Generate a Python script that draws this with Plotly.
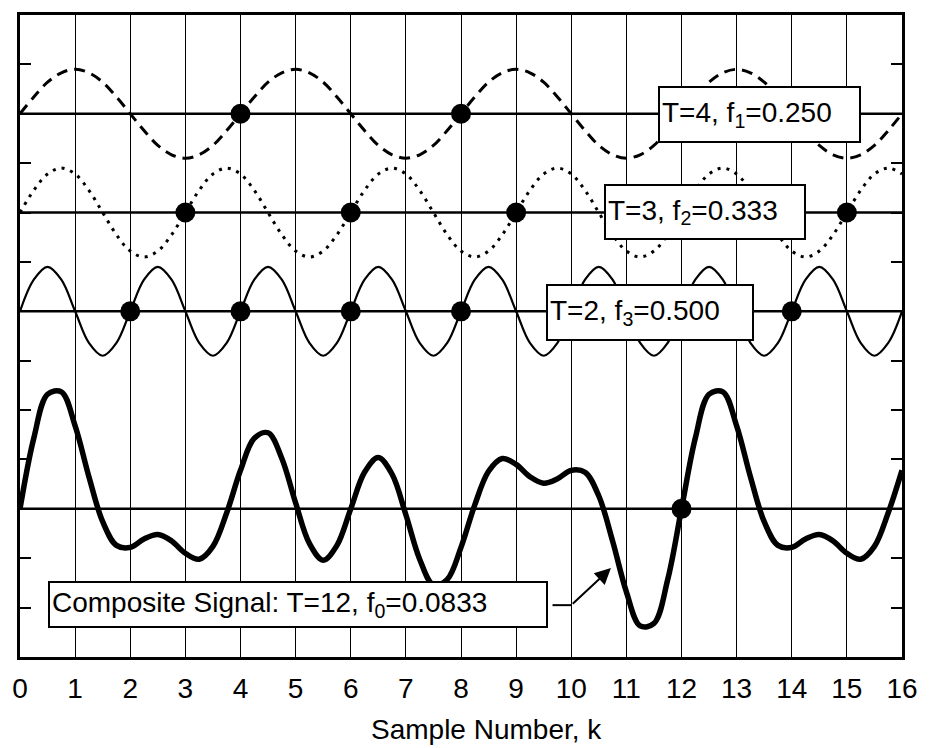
import plotly.graph_objects as go

# ---------------- data ----------------
# sample positions along k (every quarter sample)
k = [i * 0.25 for i in range(65)]

# T=4 component (f1 = 0.250), values around its own baseline
wave_T4 = [
    0.00, 0.34, 0.64, 0.83, 0.90, 0.83, 0.64, 0.34, 0.00, -0.34, -0.64, -0.83, -0.90, -0.83, -0.64, -0.34,
    0.00, 0.34, 0.64, 0.83, 0.90, 0.83, 0.64, 0.34, 0.00, -0.34, -0.64, -0.83, -0.90, -0.83, -0.64, -0.34,
    0.00, 0.34, 0.64, 0.83, 0.90, 0.83, 0.64, 0.34, 0.00, -0.34, -0.64, -0.83, -0.90, -0.83, -0.64, -0.34,
    0.00, 0.34, 0.64, 0.83, 0.90, 0.83, 0.64, 0.34, 0.00, -0.34, -0.64, -0.83, -0.90, -0.83, -0.64, -0.34,
    0.00,
]

# T=3 component (f2 = 0.333)
wave_T3 = [
    0.00, 0.45, 0.78, 0.90, 0.78, 0.45, 0.00, -0.45, -0.78, -0.90, -0.78, -0.45,
    0.00, 0.45, 0.78, 0.90, 0.78, 0.45, 0.00, -0.45, -0.78, -0.90, -0.78, -0.45,
    0.00, 0.45, 0.78, 0.90, 0.78, 0.45, 0.00, -0.45, -0.78, -0.90, -0.78, -0.45,
    0.00, 0.45, 0.78, 0.90, 0.78, 0.45, 0.00, -0.45, -0.78, -0.90, -0.78, -0.45,
    0.00, 0.45, 0.78, 0.90, 0.78, 0.45, 0.00, -0.45, -0.78, -0.90, -0.78, -0.45,
    0.00, 0.45, 0.78, 0.90, 0.78,
]

# T=2 component (f3 = 0.500)
wave_T2 = [
    0.00, 0.64, 0.90, 0.64, 0.00, -0.64, -0.90, -0.64,
    0.00, 0.64, 0.90, 0.64, 0.00, -0.64, -0.90, -0.64,
    0.00, 0.64, 0.90, 0.64, 0.00, -0.64, -0.90, -0.64,
    0.00, 0.64, 0.90, 0.64, 0.00, -0.64, -0.90, -0.64,
    0.00, 0.64, 0.90, 0.64, 0.00, -0.64, -0.90, -0.64,
    0.00, 0.64, 0.90, 0.64, 0.00, -0.64, -0.90, -0.64,
    0.00, 0.64, 0.90, 0.64, 0.00, -0.64, -0.90, -0.64,
    0.00, 0.64, 0.90, 0.64, 0.00, -0.64, -0.90, -0.64,
    0.00,
]

# Composite signal (T=12, f0 = 0.0833)
wave_comp = [
    0.00, 1.43, 2.32, 2.37, 1.68, 0.65, -0.26, -0.74,
    -0.78, -0.61, -0.52, -0.65, -0.90, -1.02, -0.76, -0.08,
    0.78, 1.43, 1.54, 1.02, 0.12, -0.70, -1.04, -0.74,
    0.00, 0.74, 1.04, 0.70, -0.12, -1.02, -1.54, -1.43,
    -0.78, 0.08, 0.76, 1.02, 0.90, 0.65, 0.52, 0.61,
    0.78, 0.74, 0.26, -0.65, -1.68, -2.37, -2.32, -1.43,
    0.00, 1.43, 2.32, 2.37, 1.68, 0.65, -0.26, -0.74,
    -0.78, -0.61, -0.52, -0.65, -0.90, -1.02, -0.76, -0.08,
    0.78,
]

# sample numbers carrying a dot on each trace
dots_T4 = [4, 8, 12]
dots_T3 = [3, 6, 9, 12, 15]
dots_T2 = [2, 4, 6, 8, 10, 12, 14]
dots_comp = [12]

x_ticks = list(range(17))
x_tick_text = [str(v) for v in x_ticks]

label_T4 = "T=4, f<sub>1</sub>=0.250"
label_T3 = "T=3, f<sub>2</sub>=0.333"
label_T2 = "T=2, f<sub>3</sub>=0.500"
label_comp = "Composite Signal: T=12, f<sub>0</sub>=0.0833"
x_title = "Sample Number, k"

# ---------------- layout constants ----------------
BASE_T4, BASE_T3, BASE_T2, BASE_COMP = 11, 9, 7, 3
FONT = "Arial, Liberation Sans, Helvetica, sans-serif"

fig = go.Figure()


def add_wave(values, base, width, dash, dots):
    fig.add_trace(go.Scatter(
        x=k, y=[base + v for v in values], mode="lines",
        line=dict(color="black", width=width, dash=dash, shape="spline", smoothing=1.0),
        hoverinfo="skip", showlegend=False))
    idx = [k.index(float(d)) for d in dots]
    fig.add_trace(go.Scatter(
        x=[k[i] for i in idx], y=[base + values[i] for i in idx], mode="markers",
        marker=dict(color="black", size=20, line=dict(width=0)),
        hoverinfo="skip", showlegend=False))


add_wave(wave_T4, BASE_T4, 3, "11px,7px", dots_T4)
add_wave(wave_T3, BASE_T3, 3, "3px,6px", dots_T3)
add_wave(wave_T2, BASE_T2, 2.2, "solid", dots_T2)
add_wave(wave_comp, BASE_COMP, 5.5, "solid", dots_comp)

shapes = []
for b in (BASE_T4, BASE_T3, BASE_T2, BASE_COMP):
    shapes.append(dict(type="line", xref="paper", yref="y", x0=0, x1=1, y0=b, y1=b,
                       line=dict(color="black", width=2.5), layer="below"))
# short horizontal lead of the arrow
shapes.append(dict(type="line", xref="x", yref="y", x0=9.66, x1=10.0, y0=1.05, y1=1.05,
                   line=dict(color="black", width=2)))

annotations = []
box_specs = [
    (label_T4, 11.58, 10.98, 195, 49),
    (label_T3, 10.60, 9.02, 194, 48),
    (label_T2, 9.54, 6.98, 200, 49),
    (label_comp, 0.50, 1.06, 492, 39),
]
for text, ax_, ay_, w, h in box_specs:
    annotations.append(dict(
        text=text, x=ax_, y=ay_, xref="x", yref="y", xanchor="left", yanchor="middle",
        showarrow=False, align="left", valign="middle", width=w, height=h,
        font=dict(family=FONT, size=28, color="black"),
        bgcolor="white", bordercolor="black", borderwidth=2, borderpad=2))

annotations.append(dict(
    text="", x=10.72, y=1.8, xref="x", yref="y", ax=10.0, ay=1.05, axref="x", ayref="y",
    showarrow=True, arrowhead=2, arrowsize=1.6, arrowwidth=2, arrowcolor="black", standoff=0))

annotations.append(dict(
    text=x_title, x=(485 - 12) / 895, y=-(730 - 657) / 645, xref="paper", yref="paper",
    xanchor="center", yanchor="middle", showarrow=False,
    font=dict(family=FONT, size=28, color="black")))

fig.update_layout(
    width=930, height=748,
    margin=dict(l=12, r=23, t=12, b=91),
    paper_bgcolor="white", plot_bgcolor="white",
    showlegend=False,
    shapes=shapes, annotations=annotations,
    xaxis=dict(range=[0, 16], tickvals=x_ticks, ticktext=x_tick_text,
               showgrid=True, gridcolor="black", gridwidth=1.2, zeroline=False,
               showline=True, linecolor="black", linewidth=3, mirror=True,
               ticks="", ticklabelstandoff=4,
               tickfont=dict(family=FONT, size=28, color="black")),
    yaxis=dict(range=[0, 13], dtick=1, tick0=0, showgrid=False, zeroline=False,
               showticklabels=False, ticks="inside", ticklen=11, tickwidth=2,
               tickcolor="black",
               showline=True, linecolor="black", linewidth=3, mirror="ticks"),
)

fig.write_html("out.html")
